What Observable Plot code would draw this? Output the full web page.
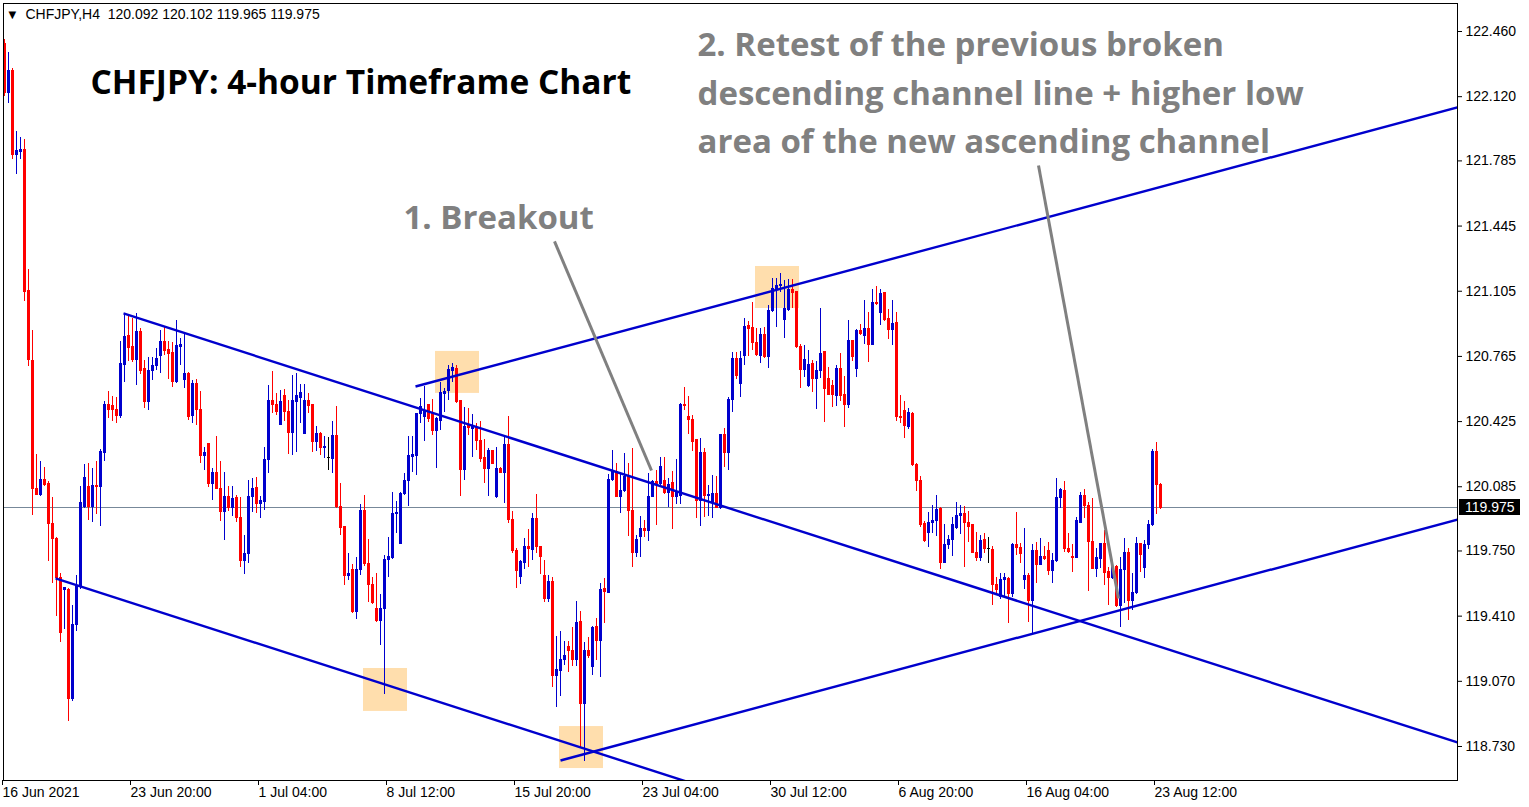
<!DOCTYPE html>
<html><head><meta charset="utf-8">
<script src="https://cdn.jsdelivr.net/npm/d3@7"></script>
<script src="https://cdn.jsdelivr.net/npm/@observablehq/plot@0.6"></script>
<style>html,body{margin:0;padding:0;background:#fff;} #chart{position:absolute;left:0;top:0;}</style>
</head><body><div id="chart"></div>
<script>
// ---- data (CHFJPY H4, one value per 4-hour bar) ----
const headerText = "CHFJPY,H4  120.092 120.102 119.965 119.975";
const titleText = "CHFJPY: 4-hour Timeframe Chart";
const note1Text = "1. Breakout";
const note2Lines = ["2. Retest of the previous broken", "descending channel line + higher low", "area of the new ascending channel"];

const opens = [
122.395,122.139,122.255,121.817,121.831,121.842,121.108,120.739,120.075,120.044,
120.121,120.098,119.893,119.814,119.608,119.545,119.545,118.979,119.363,119.562,
119.981,120.086,119.981,120.091,120.086,120.261,120.511,120.506,120.488,120.455,
120.721,120.872,120.814,120.744,120.892,120.697,120.527,120.688,120.713,120.765,
120.840,120.796,120.782,120.631,120.814,120.640,120.671,120.452,120.619,120.487,
120.248,120.306,120.097,120.156,120.074,119.953,120.034,119.975,120.027,119.923,
119.697,119.732,120.031,120.080,119.993,120.005,120.222,120.535,120.514,120.408,
120.560,120.474,120.365,120.527,120.547,120.361,120.532,120.509,120.321,120.361,
120.288,120.236,120.231,120.348,119.982,119.874,119.617,119.652,119.431,119.652,
119.956,119.680,119.575,119.448,119.384,119.448,119.701,119.715,119.941,119.788,
120.045,120.114,120.239,120.248,120.465,120.448,120.509,120.465,120.378,120.427,
120.570,120.587,120.688,120.700,120.530,120.170,120.405,120.387,120.392,120.326,
120.236,120.178,120.271,120.031,120.178,120.156,120.305,119.912,119.752,119.613,
119.686,119.770,119.756,119.918,119.773,119.622,119.500,119.587,119.100,119.126,
119.182,119.248,119.230,119.182,119.378,118.952,119.227,119.143,119.352,119.279,
119.552,119.530,120.121,120.161,120.034,120.065,120.135,119.957,119.738,119.825,
119.865,119.853,120.030,120.109,120.100,120.117,120.051,120.103,120.034,120.039,
120.513,120.449,120.431,120.327,120.009,120.263,120.036,120.005,120.049,119.974,
120.353,120.263,120.536,120.753,120.622,120.767,120.922,120.913,120.836,120.767,
120.875,120.762,121.000,121.115,121.132,120.953,121.005,121.109,121.101,120.814,
120.692,120.610,120.727,120.649,120.688,120.787,120.648,120.613,120.561,120.700,
120.566,120.509,120.844,120.700,120.896,120.874,120.909,120.827,121.043,120.990,
121.095,120.961,120.903,120.938,120.451,120.479,120.399,120.462,120.201,120.117,
119.891,119.843,119.895,119.905,119.970,119.686,119.783,119.808,119.870,119.935,
119.943,119.895,119.883,119.738,119.714,119.808,119.761,119.756,119.575,119.509,
119.596,119.604,119.523,119.783,119.766,119.596,119.622,119.488,119.749,119.679,
119.721,119.749,119.644,119.696,120.027,120.065,119.761,119.721,119.714,119.895,
120.039,119.987,119.796,119.657,119.709,119.784,119.640,119.610,119.666,119.461,
119.652,119.739,119.488,119.530,119.784,119.662,119.779,119.883,120.266,120.092];

const highs = [
122.418,122.353,122.267,121.940,121.905,121.894,121.217,120.898,120.254,120.219,
120.184,120.110,120.028,119.818,119.632,119.560,119.555,119.468,119.620,120.086,
120.203,120.208,120.180,120.215,120.278,120.529,120.581,120.557,120.553,120.844,
120.991,120.973,120.961,120.991,120.909,120.744,120.758,120.758,120.805,120.900,
120.918,120.845,120.840,120.953,120.857,120.880,120.683,120.640,120.645,120.584,
120.292,120.309,120.179,120.347,120.219,120.160,120.087,120.087,120.040,120.031,
119.831,120.118,120.127,120.135,120.034,120.292,120.613,120.688,120.570,120.587,
120.591,120.535,120.666,120.674,120.619,120.619,120.570,120.513,120.400,120.370,
120.348,120.341,120.426,120.504,120.104,119.878,119.735,119.680,119.718,119.993,
120.040,119.808,119.610,119.631,119.523,119.727,119.819,120.057,120.010,120.057,
120.153,120.348,120.347,120.465,120.544,120.608,120.509,120.538,120.448,120.631,
120.596,120.718,120.730,120.718,120.530,120.500,120.491,120.462,120.413,120.427,
120.330,120.283,120.274,120.288,120.187,120.347,120.452,119.958,119.761,119.700,
119.813,119.860,119.947,120.045,119.773,119.700,119.622,119.613,119.303,119.331,
119.279,119.279,119.349,119.488,119.436,119.274,119.297,119.356,119.396,119.578,
119.604,120.149,120.274,120.208,120.149,120.256,120.204,120.283,119.830,119.930,
119.909,120.156,120.117,120.170,120.239,120.236,120.126,120.166,120.225,120.517,
120.605,120.558,120.457,120.332,120.339,120.287,120.092,120.144,120.141,120.356,
120.388,120.553,120.788,120.784,120.791,120.965,120.948,121.045,120.913,120.909,
120.918,121.031,121.170,121.174,121.196,121.162,121.167,121.167,121.104,120.826,
120.822,120.796,120.744,120.739,121.013,120.787,120.705,120.639,120.717,120.778,
120.660,120.952,120.848,120.903,120.931,121.056,120.996,121.112,121.130,121.112,
121.100,121.008,121.056,120.996,120.561,120.531,120.491,120.474,120.208,120.138,
119.905,119.952,119.987,120.039,119.975,119.888,119.830,119.926,120.004,119.987,
119.982,119.957,119.888,119.848,119.830,119.843,119.818,119.773,119.613,119.634,
119.634,119.610,119.790,119.952,119.790,119.865,119.634,119.783,119.796,119.813,
119.773,119.796,119.735,120.126,120.074,120.114,119.839,119.783,119.923,120.056,
120.069,120.004,120.022,119.761,119.788,119.857,119.666,119.675,119.675,119.718,
119.814,119.761,119.631,119.819,119.791,119.805,119.909,120.278,120.318,120.102];

const lows = [
122.120,122.085,121.793,121.714,121.793,121.054,120.711,119.935,120.040,120.033,
120.086,119.695,119.578,119.410,119.275,119.340,118.862,118.967,119.329,119.550,
119.970,119.911,119.900,119.940,119.877,120.215,120.441,120.425,120.413,120.441,
120.627,120.739,120.735,120.611,120.671,120.495,120.483,120.640,120.692,120.678,
120.770,120.643,120.601,120.626,120.718,120.596,120.431,120.417,120.405,120.208,
120.170,120.083,120.014,120.069,119.906,119.805,119.958,119.930,119.901,119.666,
119.628,119.687,119.953,119.948,119.918,119.961,120.153,120.466,120.457,120.405,
120.427,120.254,120.248,120.266,120.414,120.358,120.466,120.266,120.271,120.248,
120.231,120.170,120.153,119.970,119.831,119.570,119.596,119.422,119.391,119.622,
119.669,119.483,119.471,119.379,119.257,119.002,119.614,119.704,119.840,119.784,
120.040,119.982,120.161,120.144,120.417,120.323,120.422,120.352,120.178,120.378,
120.474,120.535,120.631,120.518,120.034,120.118,120.352,120.239,120.274,120.213,
120.104,120.034,120.201,120.022,120.152,119.996,119.895,119.739,119.552,119.575,
119.652,119.662,119.700,119.735,119.627,119.483,119.483,119.036,118.935,118.990,
119.152,119.117,119.147,119.147,118.717,118.653,119.187,119.100,119.178,119.091,
119.370,119.526,120.114,120.027,119.943,120.056,119.825,119.665,119.714,119.717,
119.822,119.801,120.027,119.883,120.083,120.044,119.975,119.860,119.992,119.992,
120.483,120.356,120.269,119.918,119.880,119.927,119.932,119.922,119.970,119.967,
120.183,120.170,120.471,120.645,120.553,120.718,120.762,120.796,120.767,120.727,
120.753,120.701,120.993,120.918,121.097,120.857,121.000,121.014,120.805,120.596,
120.657,120.605,120.576,120.489,120.648,120.422,120.561,120.497,120.503,120.531,
120.392,120.491,120.740,120.657,120.874,120.827,120.735,120.822,121.030,120.926,
120.949,120.851,120.822,120.427,120.413,120.335,120.382,120.191,120.062,119.874,
119.796,119.766,119.839,119.825,119.651,119.683,119.756,119.721,119.860,119.836,
119.662,119.796,119.735,119.697,119.697,119.735,119.683,119.465,119.523,119.495,
119.509,119.373,119.505,119.726,119.686,119.547,119.378,119.321,119.582,119.679,
119.700,119.622,119.582,119.691,119.970,119.743,119.735,119.639,119.709,119.891,
119.917,119.540,119.652,119.614,119.657,119.570,119.466,119.600,119.454,119.353,
119.478,119.388,119.440,119.523,119.640,119.608,119.756,119.878,119.941,119.965];

const closes = [
122.139,122.255,121.817,121.835,121.842,121.101,120.744,120.075,120.044,120.121,
120.093,119.893,119.811,119.608,119.322,119.555,118.979,119.363,119.562,119.998,
120.133,119.981,120.091,120.086,120.266,120.511,120.483,120.483,120.455,120.728,
120.868,120.809,120.744,120.891,120.688,120.527,120.688,120.713,120.754,120.840,
120.793,120.775,120.631,120.817,120.827,120.671,120.448,120.619,120.483,120.248,
120.262,120.097,120.156,120.071,119.953,120.034,119.975,120.022,119.923,119.697,
119.732,120.031,120.074,119.996,120.010,120.222,120.535,120.514,120.474,120.527,
120.474,120.365,120.530,120.556,120.574,120.532,120.504,120.321,120.361,120.288,
120.295,120.236,120.348,119.979,119.871,119.617,119.628,119.431,119.652,119.956,
119.680,119.575,119.478,119.384,119.448,119.701,119.721,119.941,119.948,120.045,
120.114,120.243,120.253,120.462,120.500,120.474,120.439,120.378,120.439,120.573,
120.578,120.695,120.705,120.526,120.170,120.399,120.392,120.399,120.323,120.231,
120.178,120.271,120.205,120.178,120.156,120.305,119.909,119.749,119.648,119.692,
119.770,119.761,119.918,119.770,119.718,119.500,119.587,119.100,119.130,119.182,
119.204,119.227,119.182,119.373,118.952,119.227,119.204,119.349,119.279,119.547,
119.535,120.121,120.161,120.030,120.065,120.135,119.957,119.738,119.808,119.865,
119.856,120.030,120.109,120.100,120.190,120.051,120.096,120.030,120.051,120.514,
120.506,120.431,120.318,120.009,120.263,120.036,120.040,120.049,119.974,120.353,
120.263,120.536,120.753,120.662,120.753,120.918,120.909,120.836,120.770,120.878,
120.762,121.000,121.118,121.132,121.139,121.010,121.109,121.097,120.814,120.692,
120.744,120.718,120.649,120.687,120.775,120.596,120.566,120.566,120.700,120.561,
120.509,120.844,120.761,120.896,120.883,120.909,120.827,121.043,121.036,121.088,
120.956,120.903,120.935,120.448,120.444,120.404,120.469,120.196,120.117,119.888,
119.801,119.895,119.905,119.964,119.686,119.783,119.808,119.883,119.935,119.943,
119.895,119.877,119.738,119.714,119.801,119.761,119.761,119.570,119.547,119.596,
119.610,119.523,119.783,119.766,119.735,119.622,119.488,119.749,119.679,119.721,
119.709,119.644,119.696,120.027,120.069,119.761,119.743,119.714,119.905,120.039,
119.987,119.796,119.657,119.715,119.784,119.635,119.610,119.666,119.461,119.652,
119.739,119.488,119.530,119.784,119.727,119.779,119.883,120.266,120.092,119.975];

// time axis: bar index of each labelled bar and its label
const dateTickBars = [0, 32, 64, 96, 128, 160, 192, 224, 256, 288];
const dateTickLabels = ["16 Jun 2021", "23 Jun 20:00", "1 Jul 04:00", "8 Jul 12:00", "15 Jul 20:00",
  "23 Jul 04:00", "30 Jul 12:00", "6 Aug 20:00", "16 Aug 04:00", "23 Aug 12:00"];
const priceTicks = [122.460, 122.120, 121.785, 121.445, 121.105, 120.765, 120.425, 120.085, 119.750, 119.410, 119.070, 118.730];

// channel lines (bar index, price)
const channelStartBar = [29.75, 12.75, 102.75, 139.0];
const channelStartPrice = [120.989, 119.607, 120.608, 118.657];
const channelEndBar = [363.25, 175.0, 363.25, 363.25];
const channelEndPrice = [118.751, 118.517, 122.064, 119.914];

// highlighted zones (bar range, price range)
const zoneBar1 = [107.75, 187.75, 89.75, 138.75];
const zoneBar2 = [118.75, 198.75, 100.75, 149.75];
const zonePrice1 = [120.791, 121.234, 119.137, 118.834];
const zonePrice2 = [120.572, 121.015, 118.913, 118.615];

// grey pointer lines (bar, price)
const pointerStartBar = [137.5, 258.5];
const pointerStartPrice = [121.365, 121.761];
const pointerEndBar = [161.75, 278.5];
const pointerEndPrice = [120.170, 119.502];

// ---- build tables ----
const bars = opens.map((o, i) => ({
  k: i, open: o, high: highs[i], low: lows[i], close: closes[i],
  color: closes[i] > o ? "#0000CD" : closes[i] < o ? "#FF0000" : "#000000"
}));
const channels = channelStartBar.map((b, i) => ({x1: b, y1: channelStartPrice[i], x2: channelEndBar[i], y2: channelEndPrice[i]}));
const zones = zoneBar1.map((b, i) => ({x1: b, x2: zoneBar2[i], y1: zonePrice1[i], y2: zonePrice2[i]}));
const pointers = pointerStartBar.map((b, i) => ({x1: b, y1: pointerStartPrice[i], x2: pointerEndBar[i], y2: pointerEndPrice[i]}));
const lastClose = closes[closes.length - 1];
const xTicks = dateTickBars.map(b => b - 0.5);
const xLabel = new Map(xTicks.map((t, i) => [t, dateTickLabels[i]]));

const BIG = {fontFamily: "Open Sans", fontWeight: 700, fontSize: 33, textAnchor: "start", lineAnchor: "middle", frameAnchor: "top-left"};

const plot = Plot.plot({
  width: 1529, height: 807,
  marginLeft: 3, marginRight: 72, marginTop: 3, marginBottom: 27,
  style: {fontFamily: "Liberation Sans", fontSize: "14px", color: "black", background: "white", overflow: "visible"},
  x: {domain: [-0.25, 363.25]},
  y: {domain: [118.5526, 122.6061]},
  marks: [
    Plot.rect(zones, {x1: "x1", x2: "x2", y1: "y1", y2: "y2", fill: "#FFDEAD"}),
    Plot.ruleY([lastClose], {stroke: "#778899", strokeWidth: 1, shapeRendering: "crispEdges"}),
    Plot.ruleX(bars, {x: "k", y1: "low", y2: "high", stroke: "color", strokeWidth: 1, shapeRendering: "crispEdges"}),
    Plot.rect(bars, {x1: d => d.k - 0.375, x2: d => d.k + 0.375, y1: "open", y2: "close", fill: "color", insetTop: -0.5, insetBottom: -0.5, shapeRendering: "crispEdges"}),
    Plot.link(channels, {x1: "x1", y1: "y1", x2: "x2", y2: "y2", stroke: "#0000CD", strokeWidth: 2.4, clip: true}),
    Plot.link(pointers, {x1: "x1", y1: "y1", x2: "x2", y2: "y2", stroke: "#808080", strokeWidth: 3}),
    Plot.frame({stroke: "black", strokeWidth: 1, shapeRendering: "crispEdges"}),
    Plot.axisX({anchor: "bottom", ticks: xTicks, tickFormat: d => xLabel.get(d), textAnchor: "start", tickSize: 5, tickPadding: 2, label: null, fontSize: 14}),
    Plot.axisY({anchor: "right", ticks: priceTicks, tickFormat: d => d.toFixed(3), tickSize: 4, tickPadding: 4, label: null, fontSize: 14}),
    Plot.text(["\u25BC"], {frameAnchor: "top-left", dx: 5, dy: 11, fontSize: 10, fontFamily: "DejaVu Sans", textAnchor: "start", lineAnchor: "middle", fill: "black"}),
    Plot.text([headerText], {frameAnchor: "top-left", dx: 22, dy: 11, fontSize: 14, fontFamily: "Liberation Sans", textAnchor: "start", lineAnchor: "middle", fill: "black"}),
    Plot.text([titleText], {...BIG, dx: 87, dy: 80, fontSize: 33.5, fill: "black"}),
    Plot.text([note1Text], {...BIG, dx: 400, dy: 215, fill: "#808080"}),
    Plot.text([note2Lines[0]], {...BIG, dx: 694, dy: 42, fill: "#808080"}),
    Plot.text([note2Lines[1]], {...BIG, dx: 694, dy: 91, fill: "#808080"}),
    Plot.text([note2Lines[2]], {...BIG, dx: 694, dy: 139, fill: "#808080"})
  ]
});
document.getElementById("chart").append(plot);

// current price label on the right axis
const ys = plot.scale("y"), xs = plot.scale("x");
const yy = ys.apply(lastClose);
const xr = xs.range[1];
const svg = d3.select(plot);
svg.append("rect").attr("x", xr + 2).attr("y", Math.round(yy) - 8).attr("width", 61).attr("height", 16).attr("fill", "black");
svg.append("text").attr("x", xr + 8).attr("y", yy).attr("dy", "0.35em").attr("fill", "white").attr("text-anchor", "start")
  .style("font-family", "Liberation Sans").style("font-size", "14px").text(lastClose.toFixed(3));
</script>
</body></html>
